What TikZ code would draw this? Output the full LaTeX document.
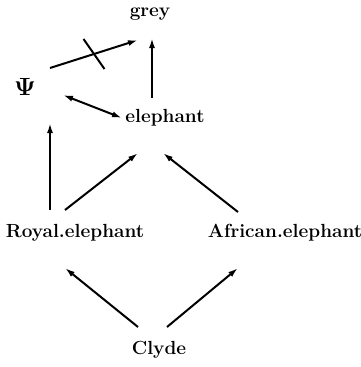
\documentclass[tikz,border=0pt]{standalone}
\usetikzlibrary{arrows.meta}
\begin{document}
\begin{tikzpicture}[x=1pt,y=-1pt,
  lbl/.style={inner sep=0pt,font=\fontsize{19}{21}\selectfont\bfseries},
  arr/.style={line width=2pt,-{Latex[length=10pt,width=6pt]}},
  darr/.style={line width=2pt,{Latex[length=10pt,width=6pt]}-{Latex[length=10pt,width=6pt]}},
  crossmark/.style={line width=2pt}]
\useasboundingbox (0,0) rectangle (361,367);
\node[lbl] (grey) at (150,14) {grey};
\node[lbl,font=\fontsize{24}{26}\selectfont\bfseries] (psi) at (25,87) {$\mathbf{\Psi}$};
\node[lbl] (el) at (165,118) {elephant};
\node[lbl] (re) at (75,233) {Royal.elephant};
\node[lbl] (ae) at (285,233) {African.elephant};
\node[lbl] (cl) at (159,350) {Clyde};
\draw[arr] ([shift={(25,-19)}]psi.center) -- coordinate[pos=0.5] (mid) ([shift={(-12,26)}]grey.center);
\coordinate (c1) at ([shift={(-10.5,-15)}]mid);
\coordinate (c2) at ([shift={(10.5,15)}]mid);
\draw[crossmark] (c1) -- (c2);
\draw[arr] ([shift={(-13,-20)}]el.center) -- ([shift={(2,24)}]grey.center);
\draw[darr] ([shift={(38,8)}]psi.center) -- ([shift={(-43,0)}]el.center);
\draw[arr] ([shift={(-25,-23)}]re.center) -- ([shift={(25,36)}]psi.center);
\draw[arr] ([shift={(-10,-23)}]re.center) -- ([shift={(-27,35)}]el.center);
\draw[arr] ([shift={(-47,-21)}]ae.center) -- ([shift={(-2,35)}]el.center);
\draw[arr] ([shift={(-21,-23)}]cl.center) -- ([shift={(-10,35)}]re.center);
\draw[arr] ([shift={(8,-23)}]cl.center) -- ([shift={(-47,35)}]ae.center);
\end{tikzpicture}
\end{document}
